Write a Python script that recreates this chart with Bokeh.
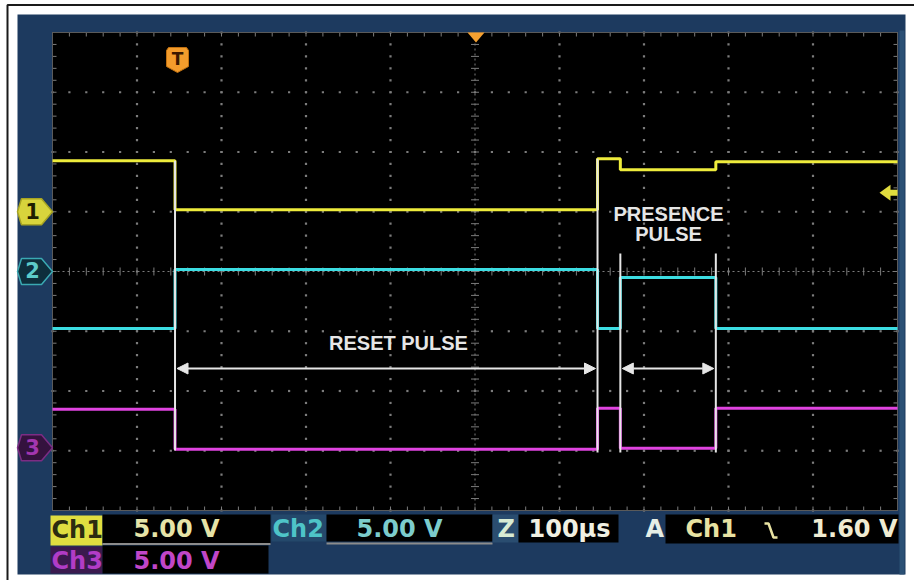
import numpy as np
from bokeh.plotting import figure
from bokeh.models import Range1d, Arrow, NormalHead
from bokeh.core.properties import value
from bokeh.embed import file_html
from bokeh.resources import INLINE

# ---------------- data ----------------
edge_times_us = [-145, 0, 500, 527, 640, 855]        # segment boundaries (us, trigger at 0)
ch1_volts = [4.27, 0.17, 4.44, 3.51, 4.18]            # level of each segment
ch2_volts = [-4.77, 0.17, -4.77, -0.50, -4.77]
ch3_volts = [3.22, -0.13, 3.30, -0.05, 3.30]
channel_labels = ["Ch1", "Ch2", "Ch3"]
channel_markers = ["1", "2", "3"]
channel_scale_labels = ["5.00 V", "5.00 V", "5.00 V"]
volts_per_div = 5.0
channel_position_div = [1.0, 0.0, -2.95]
time_per_div_us = 100
timebase_label = "100μs"
trigger_source = "Ch1"
trigger_level_v = 1.60
trigger_level_label = "1.60 V"
reset_label = "RESET PULSE"
presence_label = ["PRESENCE", "PULSE"]

# ---------------- layout ----------------
W, H = 914, 580
OX, OY = 0, 0
GX0, GX1, GY0, GY1 = 52, 897, 32, 510
NXD, NYD = 10, 8
px_per_us = (GX1 - GX0) / (NXD * time_per_div_us)
px_per_div = (GY1 - GY0) / NYD
t_left = edge_times_us[0]


def X(px):
    return t_left + (px - GX0) / px_per_us


def Y(py):
    return NYD / 2 - (py - GY0) / px_per_div


def dx(px):
    return px / px_per_us


def dy(px):
    return px / px_per_div


p = figure(width=W, height=H, x_range=Range1d(X(OX), X(OX + W)),
           y_range=Range1d(Y(OY + H), Y(OY)), output_backend="svg",
           toolbar_location=None, min_border=0,
           x_axis_location=None, y_axis_location=None)
p.grid.visible = False
p.outline_line_color = None
p.background_fill_color = "white"
p.border_fill_color = "white"


def box(x0, y0, x1, y1, color, line=None):
    p.quad(left=X(x0), right=X(x1), top=Y(y0), bottom=Y(y1),
           fill_color=color, line_color=line)


def txt(px, py, s, color, size, font="DejaVu Sans", align="left",
        style="normal"):
    # py is the wanted baseline; compensate for the renderer's baseline offset
    fs = float(size.replace("px", ""))
    p.text(x=[X(px)], y=[Y(py - 0.41 * fs)], text=[s], text_color=color,
           text_font=value(font), text_font_size=size, text_align=align,
           text_baseline="alphabetic", text_font_style=style)


# picture border lines
p.line([X(914), X(7), X(7)], [Y(4.5), Y(4.5), Y(580)], line_color="#1a1a1a",
       line_width=2)
# instrument frame
box(17, 14, 905, 574, "#1d3a5f")
box(899, 30, 904, 574, "#2b5075")
# graticule
box(GX0, GY0, GX1, GY1, "#000000")

GRID = "#7c7c7c"
t_div = [t_left + k * time_per_div_us for k in range(NXD + 1)]
sub_y = np.arange(-NYD / 2, NYD / 2 + 0.001, 0.2)
sub_t = t_left + np.arange(0, NXD + 0.001, 0.2) * time_per_div_us

dxs, dys = [], []
for k in range(1, NXD):
    if k == NXD // 2:
        continue
    dxs += [t_div[k]] * len(sub_y)
    dys += list(sub_y)
for j in range(-NYD // 2 + 1, NYD // 2):
    if j == 0:
        continue
    dxs += list(sub_t)
    dys += [j] * len(sub_t)
p.scatter(dxs, dys, marker="square", size=2.2, fill_color=GRID, line_color=None)

# center cross with ticks
tc = t_div[NXD // 2]
p.segment(x0=[tc, t_left], y0=[-NYD / 2, 0], x1=[tc, t_left + NXD * time_per_div_us],
          y1=[NYD / 2, 0], line_color=GRID, line_width=1, line_dash="2 3")
p.segment(x0=[tc - dx(4)] * len(sub_y), y0=list(sub_y), x1=[tc + dx(4)] * len(sub_y),
          y1=list(sub_y), line_color=GRID, line_width=1)
p.segment(x0=list(sub_t), y0=[-dy(4)] * len(sub_t), x1=list(sub_t),
          y1=[dy(4)] * len(sub_t), line_color=GRID, line_width=1)

# border ticks
top, bot = NYD / 2, -NYD / 2
tr = t_left + NXD * time_per_div_us
p.segment(x0=list(sub_t), y0=[top] * len(sub_t), x1=list(sub_t),
          y1=[top - dy(4)] * len(sub_t), line_color=GRID)
p.segment(x0=list(sub_t), y0=[bot] * len(sub_t), x1=list(sub_t),
          y1=[bot + dy(4)] * len(sub_t), line_color=GRID)
p.segment(x0=[t_left] * len(sub_y), y0=list(sub_y), x1=[t_left + dx(4)] * len(sub_y),
          y1=list(sub_y), line_color=GRID)
p.segment(x0=[tr] * len(sub_y), y0=list(sub_y), x1=[tr - dx(4)] * len(sub_y),
          y1=list(sub_y), line_color=GRID)
p.quad(left=t_left, right=tr, top=top, bottom=bot, fill_color=None,
       line_color="#5a5a5a", line_width=1)

# ---------------- traces ----------------
trace_colors = ["#eeec3c", "#3cdde2", "#e044e0"]
for volts, pos, col in zip([ch1_volts, ch2_volts, ch3_volts],
                           channel_position_div, trace_colors):
    ys = [pos + v / volts_per_div for v in volts]
    p.step(x=edge_times_us, y=ys + [ys[-1]], mode="after", line_color=col,
           line_width=3)

# ---------------- channel markers ----------------
marker_fill = ["#d8d43c", "#0e2e3c", "#34123e"]
marker_line = ["#a8a422", "#3aa9b2", "#7c2c84"]
marker_text = ["#1e1e00", "#5ccaca", "#a236b0"]
for name, pos, fc, lc, tcol in zip(channel_markers, channel_position_div,
                                   marker_fill, marker_line, marker_text):
    cy = GY0 + (NYD / 2 - pos) * px_per_div
    xs = [17, 21, 41, 52, 41, 21]
    ys = [cy, cy - 13, cy - 13, cy, cy + 13, cy + 13]
    p.patch([X(v) for v in xs], [Y(v) for v in ys], fill_color=fc,
            line_color=lc, line_width=1.5)
    txt(32, cy + 7.5, name, tcol, "21px", align="center", style="bold")

# trigger level marker (right edge)
ty = GY0 + (NYD / 2 - (channel_position_div[0] + trigger_level_v / volts_per_div)) * px_per_div
p.patch([X(879), X(890), X(890)], [Y(ty), Y(ty - 8), Y(ty + 8)],
        fill_color="#e0dc3e", line_color=None)
box(889, ty - 3, 897, ty + 3, "#e0dc3e")

# trigger position marker "T" and horizontal position marker
sx = [166, 168, 186, 188, 188, 177, 166]
sy = [50, 47, 47, 50, 66, 72, 66]
p.patch([X(v) for v in sx], [Y(v) for v in sy], fill_color="#f39c2c",
        line_color="#c07010")
txt(177, 65, "T", "#3a1800", "17px", align="center", style="bold")
p.patch([X(467), X(484), X(475.5)], [Y(32), Y(32), Y(42)],
        fill_color="#f5a030", line_color=None)

# ---------------- annotations ----------------
ANN = "#e6e6e6"
pos1, pos3 = channel_position_div[0], channel_position_div[2]
v_x = [edge_times_us[1], edge_times_us[2], edge_times_us[3], edge_times_us[4]]
v_top = [pos1 + ch1_volts[0] / volts_per_div, pos1 + ch1_volts[2] / volts_per_div,
         Y(253), Y(253)]
v_bot = [Y(450), Y(452), Y(452), Y(452)]
p.segment(x0=v_x, y0=v_bot, x1=v_x, y1=v_top, line_color=ANN, line_width=2)

ay = Y(368)
for a, b in [(edge_times_us[1], edge_times_us[2]), (edge_times_us[3], edge_times_us[4])]:
    p.add_layout(Arrow(start=NormalHead(size=11, fill_color=ANN, line_color=ANN),
                       end=NormalHead(size=11, fill_color=ANN, line_color=ANN),
                       x_start=a + dx(2), y_start=ay, x_end=b - dx(2), y_end=ay,
                       line_color=ANN, line_width=2))

txt(398, 351, reset_label, ANN, "20px", font="Liberation Sans", align="center",
    style="bold")
txt(668, 222, presence_label[0], ANN, "20px", font="Liberation Sans",
    align="center", style="bold")
txt(668, 242, presence_label[1], ANN, "20px", font="Liberation Sans",
    align="center", style="bold")

# ---------------- status bar ----------------
FS = "24px"
ST = "bold"
# Ch1
box(50, 515, 102, 545, "#e0de40")
txt(51, 539, channel_labels[0], "#2c2c10", FS, style=ST)
box(102, 514, 270, 543, "#000000")
txt(133, 538, channel_scale_labels[0], "#e6e4a8", FS, style=ST)
# Ch3
box(50, 546, 102, 573, "#3a1a4e")
txt(51, 570, channel_labels[2], "#b13cc6", FS, style=ST)
box(102, 545, 268, 573, "#000000")
txt(133, 570, channel_scale_labels[2], "#c046c8", FS, style=ST)
p.segment(x0=[X(102)], y0=[Y(543.5)], x1=[X(270)], y1=[Y(543.5)],
          line_color="#8c8c8c", line_width=2)
# Ch2
box(271, 514, 326, 541, "#24486b")
txt(272, 538, channel_labels[1], "#4ec4c8", FS, style=ST)
box(326, 514, 492, 541, "#000000")
txt(356, 538, channel_scale_labels[1], "#7ccccc", FS, style=ST)
p.segment(x0=[X(326)], y0=[Y(543)], x1=[X(492)], y1=[Y(543)],
          line_color="#8c8c8c", line_width=2)
# timebase
box(492, 514, 518, 542, "#2a4d70")
txt(497, 538, "Z", "#d8ecd4", FS, style=ST)
box(518, 514, 618, 542, "#000000")
txt(528, 538, timebase_label, "#f0f0e2", FS, style=ST)
# trigger
txt(645, 538, "A", "#e6eee6", FS, style=ST)
box(665, 514, 898, 543, "#000000")
txt(685, 538, trigger_source, "#e8e2a2", FS, style=ST)
p.line([X(764), X(768), X(773), X(777)], [Y(523), Y(523), Y(537), Y(537)],
       line_color="#e8e2a2", line_width=2.5)
txt(897, 538, trigger_level_label, "#f0ecd2", FS, align="right", style=ST)

open("out.html", "w").write(file_html(p, INLINE))
